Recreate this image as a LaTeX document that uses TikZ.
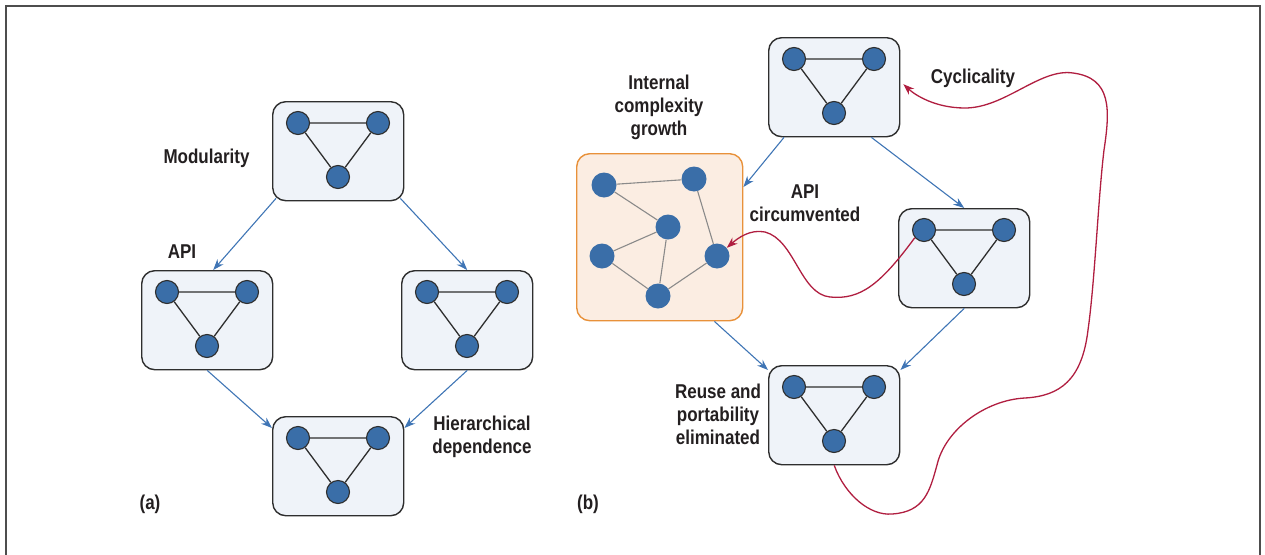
\documentclass[tikz,border=0pt]{standalone}
\usepackage{fontspec}
\setmainfont{Liberation Sans}[FakeStretch=0.85]
\usetikzlibrary{calc,arrows.meta}
\definecolor{nodeblue}{HTML}{3A6EA8}
\definecolor{boxfill}{HTML}{EFF3F9}
\definecolor{boxline}{HTML}{2E2E2E}
\definecolor{orgfill}{HTML}{FBEDE2}
\definecolor{orgline}{HTML}{E8913A}
\definecolor{arrowblue}{HTML}{3F75B5}
\definecolor{curvered}{HTML}{B01E40}
\definecolor{grayedge}{HTML}{8A8A8A}
\definecolor{txt}{HTML}{231F20}
\tikzset{
  modbox/.style={draw=boxline, fill=boxfill, line width=1.4pt, rounded corners=13pt,
    minimum width=131pt, minimum height=99pt, inner sep=0pt},
  orgbox/.style={draw=orgline, fill=orgfill, line width=1.4pt, rounded corners=13pt,
    minimum width=166pt, minimum height=167pt, inner sep=0pt},
  dot/.style={circle, draw=boxline, fill=nodeblue, line width=1.1pt, minimum size=23pt, inner sep=0pt},
  odot/.style={circle, fill=nodeblue, minimum size=25pt, inner sep=0pt},
  triedge/.style={draw=boxline, line width=1.3pt},
  grayline/.style={draw=grayedge, line width=1.1pt},
  barrow/.style={draw=arrowblue, line width=1.1pt, -{Stealth[length=11pt,width=8pt]}},
  rarrow/.style={draw=curvered, line width=1.3pt, -{Stealth[length=11pt,width=8pt]}},
  rline/.style={draw=curvered, line width=1.3pt},
  lbl/.style={font=\fontsize{20}{23}\selectfont\bfseries, text=txt, inner sep=0pt, align=center},
  outerframe/.style={draw=boxline!85, line width=2pt}
}
\newcommand\trimod[3]{%
  \node[modbox, anchor=north west] (#1) at (#2,#3) {};
  \node[dot] (#1l) at ($(#1.north west)+(26,22)$) {};
  \node[dot] (#1r) at ($(#1.north west)+(106,22)$) {};
  \node[dot] (#1b) at ($(#1.north west)+(66,76)$) {};
  \draw[triedge] (#1l) -- (#1r) (#1r) -- (#1b) (#1b) -- (#1l);
}
\begin{document}
\begin{tikzpicture}[x=1pt,y=-1pt]
\useasboundingbox (0,0) rectangle (1265,554);
\draw[outerframe] (6,570) -- (6,6) -- (1260,6) -- (1260,570);

% (a)
\trimod{aT}{272}{101}
\trimod{aL}{141}{270}
\trimod{aR}{401}{270}
\trimod{aB}{272}{416}
\draw[barrow] ([xshift=4pt,yshift=3pt]aT.south west) -- ([xshift=6pt]aL.north);
\draw[barrow] ([xshift=-4pt,yshift=3pt]aT.south east) -- (aR.north);
\draw[barrow] (aL.south) -- ([yshift=-12pt]aB.north west);
\draw[barrow] (aR.south) -- ([yshift=-12pt]aB.north east);

\node[lbl] (tmod) at (206.5,158) {Modularity};
\node[lbl] (tapi) at (182,252) {API};
\node[lbl] (thier) at (482,437) {Hierarchical\\dependence};
\node[lbl] (ta) at (150,504) {(a)};

% (b)
\trimod{bT}{768}{37}
\trimod{bR}{898}{208}
\trimod{bB}{768}{365}
\node[orgbox, anchor=north west] (org) at (576,153) {};
\node[odot] (o1) at (604,185) {};
\node[odot] (o2) at (694,179) {};
\node[odot] (o3) at (668,227) {};
\node[odot] (o4) at (602,256) {};
\node[odot] (o5) at (717,256) {};
\node[odot] (o6) at (658,296) {};
\draw[grayline] (o1) -- (o2) (o1) -- (o3) (o3) -- (o4) (o3) -- (o6) (o4) -- (o6) (o6) -- (o5) (o5) -- (o2);

\draw[barrow] ([xshift=16pt]bT.south west) -- ([yshift=-34pt]org.north east);
\draw[barrow] ([xshift=-29pt]bT.south east) -- (bR.north);
\draw[barrow] ([xshift=-29pt]org.south east) -- ([yshift=-5pt]bB.north west);
\draw[barrow] (bR.south) -- ([yshift=-5pt]bB.north east);

\draw[rarrow] (bRl.220) .. controls (880,285) and (860,300) .. (830,297)
  .. controls (800,294) and (795,240) .. (765,232)
  .. controls (750,229) and (738,238) .. (o5.40);

\draw[rarrow] (bB.south) .. controls (845,495) and (870,516) .. (892,514)
  .. controls (925,512) and (930,490) .. (937,465)
  .. controls (945,430) and (985,400) .. (1025,398)
  .. controls (1060,396) and (1082,380) .. (1088,330)
  .. controls (1095,280) and (1098,200) .. (1104,150)
  .. controls (1110,110) and (1112,78) .. (1073,73)
  .. controls (1040,68) and (1005,108) .. (965,108)
  .. controls (935,108) and (915,95) .. ([xshift=3pt,yshift=3pt]bT.east);

\node[lbl] (tint) at (659,107) {Internal\\complexity\\growth};
\node[lbl] (tcirc) at (805,203) {API\\circumvented};
\node[lbl] (tcyc) at (973,78) {Cyclicality};
\node[lbl] (treuse) at (718,414) {Reuse and\\portability\\eliminated};
\node[lbl] (tb) at (588,504) {(b)};
\end{tikzpicture}
\end{document}
